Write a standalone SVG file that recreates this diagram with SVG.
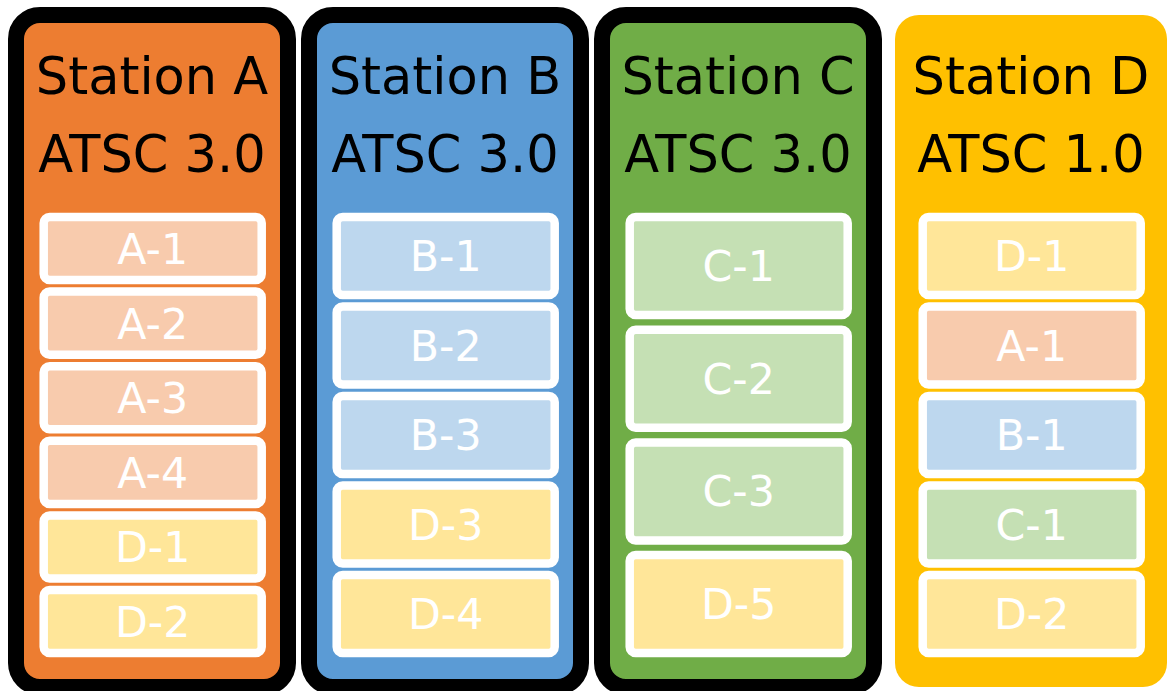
<svg xmlns="http://www.w3.org/2000/svg" width="1168" height="691" viewBox="0 0 1168 691">
  <style>
    .col { stroke: #000000; stroke-width: 16; }
    .col-d { stroke: none; }
    .head { font-family: "DejaVu Sans", Verdana, sans-serif; font-size: 51px; fill: #000000; text-anchor: middle; }
    .slot { stroke: #FFFFFF; stroke-width: 8.5; }
    .lbl { font-family: "DejaVu Sans", Verdana, sans-serif; font-size: 42.7px; fill: #FFFFFF; text-anchor: middle; }
    .a-dark { fill: #ED7D31; }
    .b-dark { fill: #5B9BD5; }
    .c-dark { fill: #70AD47; }
    .d-dark { fill: #FFC000; }
    .a-lite { fill: #F8CBAD; }
    .b-lite { fill: #BDD7EE; }
    .c-lite { fill: #C5E0B4; }
    .d-lite { fill: #FFE699; }
  </style>
  <rect width="1168" height="691" fill="#FFFFFF"/>

  <!-- Station A: six 64px slots -->
  <g id="station-a">
    <rect class="col a-dark" x="16" y="15" width="272" height="672" rx="24"/>
    <text class="head" x="152" y="94">Station A</text>
    <text class="head" x="152" y="171.5">ATSC 3.0</text>
    <g id="a-slots">
      <rect class="slot a-lite" x="43.7" y="217" width="218" height="63.1" rx="6"/>
      <text class="lbl" x="152.7" y="264">A-1</text>
      <rect class="slot a-lite" x="43.7" y="291.6" width="218" height="63.1" rx="6"/>
      <text class="lbl" x="152.7" y="338.6">A-2</text>
      <rect class="slot a-lite" x="43.7" y="366.2" width="218" height="63.1" rx="6"/>
      <text class="lbl" x="152.7" y="413.2">A-3</text>
      <rect class="slot a-lite" x="43.7" y="440.8" width="218" height="63.1" rx="6"/>
      <text class="lbl" x="152.7" y="487.8">A-4</text>
      <rect class="slot d-lite" x="43.7" y="515.4" width="218" height="63.1" rx="6"/>
      <text class="lbl" x="152.7" y="562.4">D-1</text>
      <rect class="slot d-lite" x="43.7" y="590" width="218" height="63.1" rx="6"/>
      <text class="lbl" x="152.7" y="637">D-2</text>
    </g>
  </g>

  <!-- Station B: five slots -->
  <g id="station-b">
    <rect class="col b-dark" x="309" y="15" width="272" height="672" rx="24"/>
    <text class="head" x="445" y="94">Station B</text>
    <text class="head" x="445" y="171.5">ATSC 3.0</text>
    <g id="b-slots">
      <rect class="slot b-lite" x="336.7" y="217" width="218" height="78.1" rx="6"/>
      <text class="lbl" x="445.7" y="271">B-1</text>
      <rect class="slot b-lite" x="336.7" y="306.5" width="218" height="78.1" rx="6"/>
      <text class="lbl" x="445.7" y="360.5">B-2</text>
      <rect class="slot b-lite" x="336.7" y="396" width="218" height="78.1" rx="6"/>
      <text class="lbl" x="445.7" y="450">B-3</text>
      <rect class="slot d-lite" x="336.7" y="485.5" width="218" height="78.1" rx="6"/>
      <text class="lbl" x="445.7" y="539.5">D-3</text>
      <rect class="slot d-lite" x="336.7" y="575" width="218" height="78.1" rx="6"/>
      <text class="lbl" x="445.7" y="629">D-4</text>
    </g>
  </g>

  <!-- Station C: four tall slots -->
  <g id="station-c">
    <rect class="col c-dark" x="602" y="15" width="272" height="672" rx="24"/>
    <text class="head" x="738" y="94">Station C</text>
    <text class="head" x="738" y="171.5">ATSC 3.0</text>
    <g id="c-slots">
      <rect class="slot c-lite" x="629.7" y="217" width="218" height="98" rx="6"/>
      <text class="lbl" x="738.7" y="281">C-1</text>
      <rect class="slot c-lite" x="629.7" y="329.7" width="218" height="98" rx="6"/>
      <text class="lbl" x="738.7" y="393.7">C-2</text>
      <rect class="slot c-lite" x="629.7" y="442.4" width="218" height="98" rx="6"/>
      <text class="lbl" x="738.7" y="506.4">C-3</text>
      <rect class="slot d-lite" x="629.7" y="555.1" width="218" height="98" rx="6"/>
      <text class="lbl" x="738.7" y="619.1">D-5</text>
    </g>
  </g>

  <!-- Station D: no outline -->
  <g id="station-d">
    <rect class="col-d d-dark" x="895" y="15" width="272" height="672" rx="24"/>
    <text class="head" x="1031" y="94">Station D</text>
    <text class="head" x="1031" y="171.5">ATSC 1.0</text>
    <g id="d-slots">
      <rect class="slot d-lite" x="922.7" y="217" width="218" height="78.1" rx="6"/>
      <text class="lbl" x="1031.7" y="271">D-1</text>
      <rect class="slot a-lite" x="922.7" y="306.5" width="218" height="78.1" rx="6"/>
      <text class="lbl" x="1031.7" y="360.5">A-1</text>
      <rect class="slot b-lite" x="922.7" y="396" width="218" height="78.1" rx="6"/>
      <text class="lbl" x="1031.7" y="450">B-1</text>
      <rect class="slot c-lite" x="922.7" y="485.5" width="218" height="78.1" rx="6"/>
      <text class="lbl" x="1031.7" y="539.5">C-1</text>
      <rect class="slot d-lite" x="922.7" y="575" width="218" height="78.1" rx="6"/>
      <text class="lbl" x="1031.7" y="629">D-2</text>
    </g>
  </g>

  <!-- no connectors in this layout -->
  <g id="connectors"/>
</svg>
